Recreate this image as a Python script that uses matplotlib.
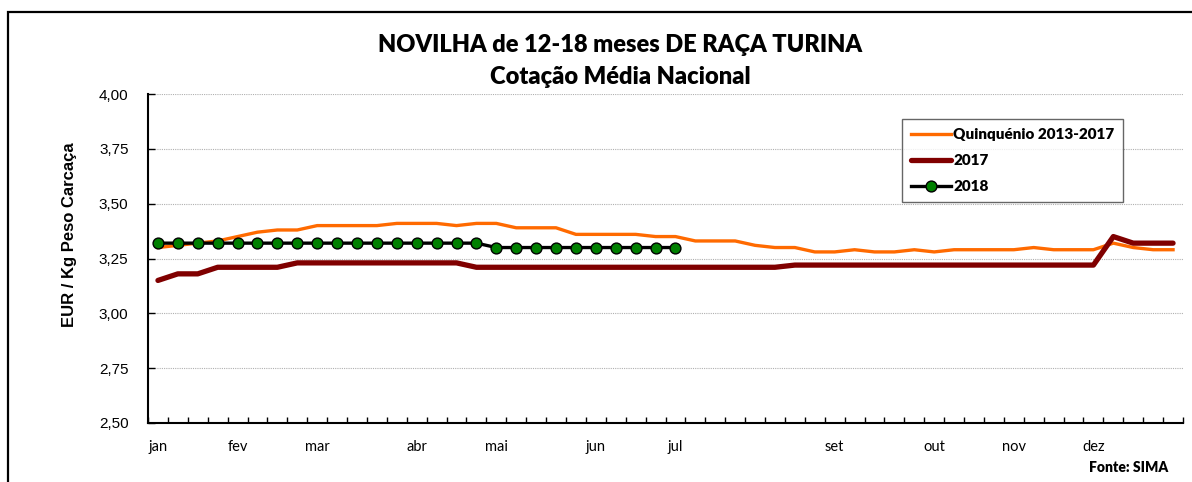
import matplotlib
matplotlib.use("Agg")
import matplotlib.pyplot as plt
from matplotlib.patches import Rectangle
from matplotlib.ticker import FixedLocator, FuncFormatter

# ---- data ----
quinquenio = [3.30, 3.31, 3.32, 3.33, 3.35, 3.37, 3.38, 3.38, 3.40, 3.40, 3.40, 3.40, 3.41,
              3.41, 3.41, 3.40, 3.41, 3.41,
              3.39, 3.39, 3.39, 3.36, 3.36, 3.36, 3.36, 3.35, 3.35, 3.33, 3.33, 3.33, 3.31,
              3.30, 3.30, 3.28, 3.28,
              3.29, 3.28, 3.28, 3.29, 3.28, 3.29, 3.29, 3.29, 3.29, 3.30, 3.29, 3.29, 3.29,
              3.32, 3.30, 3.29, 3.29]
y2017 = [3.15, 3.18, 3.18, 3.21, 3.21, 3.21, 3.21,
         3.23, 3.23, 3.23, 3.23, 3.23, 3.23, 3.23, 3.23, 3.23,
         3.21, 3.21, 3.21, 3.21, 3.21, 3.21, 3.21, 3.21, 3.21, 3.21, 3.21, 3.21, 3.21, 3.21, 3.21, 3.21,
         3.22, 3.22, 3.22, 3.22, 3.22, 3.22, 3.22, 3.22, 3.22, 3.22, 3.22, 3.22, 3.22, 3.22, 3.22, 3.22,
         3.35, 3.32, 3.32, 3.32]
y2018 = [3.32, 3.32, 3.32, 3.32, 3.32, 3.32, 3.32, 3.32, 3.32, 3.32, 3.32, 3.32, 3.32, 3.32,
         3.32, 3.32, 3.32,
         3.30, 3.30, 3.30, 3.30, 3.30, 3.30, 3.30, 3.30, 3.30, 3.30]
month_labels = ["jan", "fev", "mar", "abr", "mai", "jun", "jul", "set", "out", "nov", "dez"]
month_weeks = [0, 4, 8, 13, 17, 22, 26, 34, 39, 43, 47]
y_ticks = [2.50, 2.75, 3.00, 3.25, 3.50, 3.75, 4.00]

W, H = 1192, 482
fig = plt.figure(figsize=(W / 100, H / 100), dpi=100)
ax = fig.add_axes([148 / W, 1 - 423 / H, (1183 - 148) / W, (423 - 94) / H])

weeks = list(range(len(quinquenio)))
ax.plot(weeks, quinquenio, color="#FF6A00", lw=2.4, solid_joinstyle="round",
        label="Quinquénio 2013-2017", zorder=3)
ax.plot(list(range(len(y2017))), y2017, color="#800000", lw=3.8, solid_joinstyle="round",
        solid_capstyle="round", label="2017", zorder=3)
ax.plot(list(range(len(y2018))), y2018, color="black", lw=2.4, marker="o", ms=7.8,
        mfc="#008000", mec="black", mew=1.0, label="2018", zorder=4)

ax.set_xlim(-0.5, len(quinquenio) - 0.5)
ax.set_ylim(2.50, 4.00)

ax.yaxis.set_major_locator(FixedLocator(y_ticks))
ax.yaxis.set_major_formatter(FuncFormatter(lambda v, p: f"{v:.2f}".replace(".", ",")))
ax.tick_params(axis="y", direction="in", length=5, width=1, pad=14, labelsize=11)
for t in ax.yaxis.get_ticklabels():
    t.set_fontfamily("Liberation Sans")

ax.set_xticks(month_weeks)
ax.set_xticklabels(month_labels, fontfamily="Lato", fontsize=10.5)
ax.set_xticks([i - 0.5 for i in range(len(quinquenio) + 1)], minor=True)
ax.tick_params(axis="x", which="major", length=0, pad=12)
ax.tick_params(axis="x", which="minor", direction="in", length=4, width=1)

ax.grid(axis="y", color="#b0b0b0", linestyle=(0, (1, 1)), lw=0.8)
ax.set_axisbelow(True)
for s in ["top", "right"]:
    ax.spines[s].set_visible(False)
for s in ["left", "bottom"]:
    ax.spines[s].set_linewidth(1.5)
    ax.spines[s].set_color("black")

ax.set_ylabel("EUR / Kg Peso Carcaça", fontfamily="Liberation Sans", fontweight="bold",
              fontsize=12)
ax.yaxis.set_label_coords((77 - 148) / 1035, (423 - 235) / 329)

fig.text(620 / W, 1 - 45 / H, "NOVILHA de 12-18 meses DE RAÇA TURINA", ha="center", va="center",
         fontfamily="Lato", fontweight="heavy", fontsize=17)
fig.text(620 / W, 1 - 77 / H, "Cotação Média Nacional", ha="center", va="center",
         fontfamily="Lato", fontweight="heavy", fontsize=17)
fig.text(1168 / W, 1 - 468 / H, "Fonte: SIMA", ha="right", va="center",
         fontfamily="Lato", fontweight="heavy", fontsize=10)

leg = ax.legend(loc="upper left", bbox_to_anchor=((902 - 148) / 1035, (423 - 119) / 329),
                borderaxespad=0, frameon=True, fancybox=False, edgecolor="#404040",
                prop={"family": "Lato", "weight": "heavy", "size": 11},
                handlelength=2.6, handletextpad=0.15, labelspacing=0.85,
                borderpad=0.6)
leg.get_frame().set_linewidth(1.0)

# outer frame
fig.patches.append(Rectangle((8 / W, -0.1), 1.2, 1 - 12 / H + 0.1, transform=fig.transFigure,
                             fill=False, edgecolor="black", lw=1.6, zorder=10))

fig.savefig("out.png", dpi=100)
